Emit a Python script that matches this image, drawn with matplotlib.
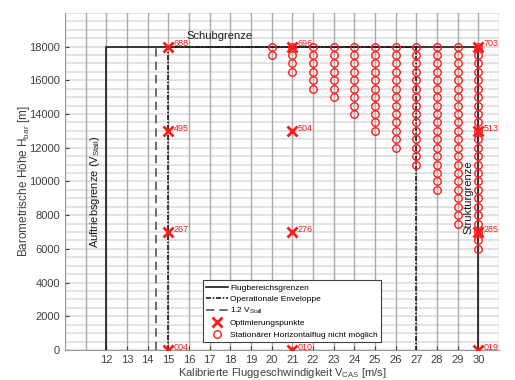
import numpy as np
import matplotlib
matplotlib.use("Agg")
import matplotlib.pyplot as plt
from matplotlib.lines import Line2D

plt.rcParams['font.family'] = ['Liberation Sans', 'DejaVu Sans']
plt.rcParams['mathtext.fontset'] = 'custom'
plt.rcParams['mathtext.rm'] = 'Liberation Sans'
plt.rcParams['mathtext.it'] = 'Liberation Sans'

# Flight envelope limits
v_stall = 12.0
v_max = 30.0
h_max = 18000.0
v_op_min = 15.0
v_op_max = 27.0
v_12stall = 14.4

# Optimisation points (speed, altitude, id)
opt_v = [15, 15, 15, 15, 21, 21, 21, 21, 30, 30, 30, 30]
opt_h = [0, 7000, 13000, 18000, 0, 7000, 13000, 18000, 0, 7000, 13000, 18000]
opt_id = ['004', '267', '495', '688', '010', '276', '504', '696', '019', '285', '513', '703']

# Steady level flight not possible: per speed, lowest altitude of the infeasible band up to h_max
nm_v = [20, 21, 22, 23, 24, 25, 26, 27, 28, 29, 30]
nm_h_min = [17500, 16500, 15500, 15000, 14000, 13000, 12000, 11000, 9500, 7500, 6000]
h_step = 500

x_ticks = list(range(12, 31))
y_ticks = list(range(0, 18001, 2000))

fig = plt.figure(figsize=(5.15, 3.8), dpi=100)
ax = fig.add_axes([0.126, 0.079, 0.843, 0.887])
ax.set_xlim(10, 31)
ax.set_ylim(0, 20000)

# grid
for xv in range(10, 32):
    ax.axvline(xv, color='#a9a9a9', lw=1.0, zorder=0.5)
for yv in np.arange(0, 20001, 500):
    ax.axhline(yv, color='#e3e3e3', lw=1.4, zorder=0.4)

red = '#ff1a1a'
black = '#1a1a1a'

# envelopes
ax.plot([v_stall, v_stall, v_max, v_max], [0, h_max, h_max, 0], color=black, lw=1.2, zorder=3)
ax.plot([v_op_min, v_op_min, v_op_max, v_op_max], [0, h_max, h_max, 0], color=black, lw=1.2,
        ls=(0, (3, 1, 1, 1)), zorder=3)
ax.plot([v_12stall, v_12stall], [0, h_max], color='#555555', lw=1.2, ls=(0, (5, 3)), zorder=3)

# infeasible steady level flight
cv, ch = [], []
for v, hmin in zip(nm_v, nm_h_min):
    hs = np.arange(hmin, h_max + 1, h_step)
    cv.extend([v] * len(hs))
    ch.extend(hs)
ax.plot(cv, ch, ls='none', marker='o', ms=5.4, mfc='none', mec=red, mew=1.0, zorder=4)

# optimisation points
ax.plot(opt_v, opt_h, ls='none', marker='x', ms=6.5, mec=red, mew=2.0, zorder=5)
for v, h, s in zip(opt_v, opt_h, opt_id):
    ax.annotate(s, (v, h), xytext=(4, 2), textcoords='offset points', color=red,
                fontsize=6.5, va='center', ha='left', zorder=11, annotation_clip=False)

# boundary labels
ax.text(17.5, 18350, 'Schubgrenze', fontsize=8, color=black, ha='center', va='bottom')
ax.text(11.45, 9400, 'Auftriebsgrenze (V$_{\\mathrm{Stall}}$)', fontsize=8, color=black,
        rotation=90, ha='center', va='center')
ax.text(29.5, 6900, 'Strukturgrenze', fontsize=8, color=black, rotation=90,
        ha='center', va='bottom')

ax.set_xticks(x_ticks)
ax.set_yticks(y_ticks)
ax.tick_params(axis='both', labelsize=8, colors='#404040', length=3, direction='in')
ax.tick_params(axis='x', pad=3.5)
for sp in ['top', 'right']:
    ax.spines[sp].set_visible(False)
for sp in ['left', 'bottom']:
    ax.spines[sp].set_color('#9a9a9a')
ax.set_xlabel('Kalibrierte Fluggeschwindigkeit V$_{\\mathrm{CAS}}$ [m/s]', fontsize=8,
              color='#404040', labelpad=0.5)
ax.set_ylabel('Barometrische Höhe H$_{\\mathrm{bar}}$ [m]', fontsize=8.5, color='#404040',
              labelpad=-2)

handles = [
    Line2D([], [], color=black, lw=1.2),
    Line2D([], [], color=black, lw=1.2, ls=(0, (3, 1, 1, 1))),
    Line2D([], [], color='#555555', lw=1.2, ls=(0, (5, 3))),
    Line2D([], [], ls='none', marker='x', ms=6.5, mec=red, mew=2.0),
    Line2D([], [], ls='none', marker='o', ms=5.4, mfc='none', mec=red, mew=1.0),
]
labels = ['Flugbereichsgrenzen', 'Operationale Enveloppe', '1.2 V$_{\\mathrm{Stall}}$',
          'Optimierungspunkte', 'Stationärer Horizontalflug nicht möglich']
leg = ax.legend(handles, labels, loc='lower left', bbox_to_anchor=(0.318, 0.024),
                fontsize=6.0, frameon=True, fancybox=False, edgecolor='#404040',
                framealpha=1, handlelength=2.6, handletextpad=0.25, borderpad=0.4,
                labelspacing=0.4, borderaxespad=0)
leg.get_frame().set_linewidth(0.8)
leg.set_zorder(10)

fig.savefig('out.png', dpi=100)
